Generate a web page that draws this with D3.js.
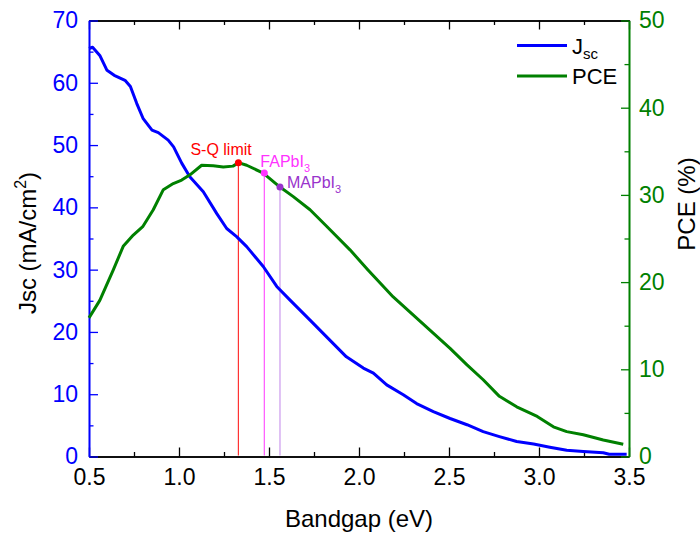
<!DOCTYPE html>
<html>
<head>
<meta charset="utf-8">
<script src="https://cdn.jsdelivr.net/npm/d3@7"></script>
<style>
  body { margin: 0; background: #fff; }
  text { font-family: "Liberation Sans", Arial, sans-serif; }
</style>
</head>
<body>
<div id="chart"></div>
<script>
// Jsc (mA/cm2) vs bandgap (eV)
const jscGap = [0.50, 0.52, 0.56, 0.60, 0.64, 0.70, 0.73, 0.765, 0.80, 0.85, 0.885, 0.94, 0.97, 1.015, 1.06, 1.135, 1.21, 1.265, 1.32, 1.376, 1.468, 1.543, 1.617, 1.728, 1.82, 1.93, 2.024, 2.08, 2.154, 2.246, 2.32, 2.413, 2.506, 2.60, 2.69, 2.78, 2.876, 2.97, 3.06, 3.154, 3.246, 3.357, 3.39, 3.487];
const jscVal = [65.5, 65.7, 64.4, 62.0, 61.2, 60.4, 59.4, 56.7, 54.3, 52.4, 52.0, 50.8, 49.7, 47.1, 44.9, 42.5, 39.0, 36.6, 35.3, 33.7, 30.5, 27.3, 25.1, 21.9, 19.2, 16.0, 14.2, 13.4, 11.5, 9.9, 8.5, 7.2, 6.1, 5.1, 4.0, 3.2, 2.4, 2.0, 1.5, 1.0, 0.8, 0.6, 0.35, 0.35];

// PCE (%) vs bandgap (eV)
const pceGap = [0.50, 0.56, 0.635, 0.69, 0.746, 0.80, 0.857, 0.913, 0.968, 1.015, 1.061, 1.126, 1.19, 1.246, 1.30, 1.33, 1.376, 1.468, 1.561, 1.635, 1.728, 1.82, 1.95, 2.05, 2.19, 2.394, 2.506, 2.60, 2.69, 2.78, 2.876, 2.99, 3.08, 3.154, 3.246, 3.357, 3.468];
const pceVal = [15.9, 17.9, 21.4, 24.1, 25.4, 26.4, 28.3, 30.6, 31.3, 31.7, 32.3, 33.4, 33.35, 33.2, 33.3, 33.7, 33.4, 32.5, 30.9, 29.8, 28.3, 26.4, 23.7, 21.4, 18.3, 14.5, 12.4, 10.5, 8.8, 6.9, 5.7, 4.6, 3.4, 2.85, 2.5, 1.9, 1.4];

// marked absorbers
const markName = ["S-Q limit", "FAPbI", "MAPbI"];
const markSub = ["", "3", "3"];
const markGap = [1.33, 1.474, 1.561];
const markPce = [33.7, 32.5, 30.9];

const xTicks = [0.5, 1.0, 1.5, 2.0, 2.5, 3.0, 3.5];
const jscTicks = [0, 10, 20, 30, 40, 50, 60, 70];
const pceTicks = [0, 10, 20, 30, 40, 50];

const W = 700, H = 535;
const margin = { top: 20.5, right: 71, bottom: 78.5, left: 89 };
const width = W - margin.left - margin.right, height = H - margin.top - margin.bottom;

const BLUE = "#0000ff", GREEN = "#008000";
const markColor = ["#ff0000", "#ff33ff", "#9933cc"];
const markLine = ["#ff3333", "#ff55ff", "#cc99ee"];

const svg = d3.select("#chart").append("svg")
    .attr("width", W)
    .attr("height", H)
    .append("g")
    .attr("transform", `translate(${margin.left},${margin.top})`);

const x = d3.scaleLinear().domain([0.5, 3.5]).range([0, width]);
const yL = d3.scaleLinear().domain([0, 70]).range([height, 0]);
const yR = d3.scaleLinear().domain([0, 50]).range([height, 0]);

const minorX = d3.range(0.75, 3.5, 0.5);
const minorL = d3.range(5, 70, 10);
const minorR = d3.range(5, 50, 10);

const styleAxis = (g, color) => {
    g.attr("color", color);
    g.select(".domain").attr("stroke-width", 1.6);
    g.selectAll(".tick line").attr("stroke-width", 1.3);
    g.selectAll("text").style("font-size", "23px").attr("fill", color);
};

// bottom
svg.append("g").attr("transform", `translate(0,${height})`)
    .call(d3.axisBottom(x).tickValues(xTicks).tickFormat(d3.format(".1f")).tickSize(-9).tickSizeOuter(0).tickPadding(12))
    .call(g => styleAxis(g, "#000"));
svg.append("g").attr("transform", `translate(0,${height})`)
    .call(d3.axisBottom(x).tickValues(minorX).tickFormat("").tickSize(-4.5).tickSizeOuter(0))
    .call(g => styleAxis(g, "#000"));
// top
svg.append("g")
    .call(d3.axisTop(x).tickValues(xTicks).tickFormat("").tickSize(-9).tickSizeOuter(0))
    .call(g => styleAxis(g, "#000"));
svg.append("g")
    .call(d3.axisTop(x).tickValues(minorX).tickFormat("").tickSize(-4.5).tickSizeOuter(0))
    .call(g => styleAxis(g, "#000"));
// left
svg.append("g")
    .call(d3.axisLeft(yL).tickValues(jscTicks).tickSize(-9).tickSizeOuter(0).tickPadding(11))
    .call(g => styleAxis(g, BLUE));
svg.append("g")
    .call(d3.axisLeft(yL).tickValues(minorL).tickFormat("").tickSize(-4.5).tickSizeOuter(0))
    .call(g => styleAxis(g, BLUE));
// right
svg.append("g").attr("transform", `translate(${width},0)`)
    .call(d3.axisRight(yR).tickValues(pceTicks).tickSize(-8).tickSizeOuter(0).tickPadding(10))
    .call(g => styleAxis(g, GREEN));
svg.append("g").attr("transform", `translate(${width},0)`)
    .call(d3.axisRight(yR).tickValues(minorR).tickFormat("").tickSize(-4.5).tickSizeOuter(0))
    .call(g => styleAxis(g, GREEN));

// marker drop lines
markGap.forEach((g, i) => {
    svg.append("line")
        .attr("x1", x(g)).attr("x2", x(g))
        .attr("y1", yR(markPce[i])).attr("y2", height - 1)
        .attr("stroke", markLine[i])
        .attr("stroke-width", 1.2);
});

// curves
const jscData = jscGap.map((g, i) => [g, jscVal[i]]);
const pceData = pceGap.map((g, i) => [g, pceVal[i]]);

svg.append("path")
    .datum(jscData)
    .attr("fill", "none")
    .attr("stroke", BLUE)
    .attr("stroke-width", 3)
    .attr("stroke-linejoin", "round")
    .attr("d", d3.line().x(d => x(d[0])).y(d => yL(d[1])));

svg.append("path")
    .datum(pceData)
    .attr("fill", "none")
    .attr("stroke", GREEN)
    .attr("stroke-width", 3)
    .attr("stroke-linejoin", "round")
    .attr("d", d3.line().x(d => x(d[0])).y(d => yR(d[1])));

// markers and labels
const labelPos = [[-48, -8], [-4, -6], [7, 1]];
markGap.forEach((g, i) => {
    svg.append("circle")
        .attr("cx", x(g)).attr("cy", yR(markPce[i]))
        .attr("r", 3.5)
        .attr("fill", markColor[i]);
    const t = svg.append("text")
        .attr("x", x(g) + labelPos[i][0])
        .attr("y", yR(markPce[i]) + labelPos[i][1])
        .attr("fill", markColor[i])
        .style("font-size", "16px")
        .text(markName[i]);
    if (markSub[i]) {
        t.append("tspan").attr("dy", 5).style("font-size", "11px").text(markSub[i]);
    }
});

// axis titles
svg.append("text")
    .attr("x", width / 2)
    .attr("y", height + 70.5)
    .style("text-anchor", "middle")
    .style("font-size", "24px")
    .text("Bandgap (eV)");

const lt = svg.append("text")
    .attr("transform", "rotate(-90)")
    .attr("x", -(243 - margin.top))
    .attr("y", 36 - margin.left)
    .style("text-anchor", "middle")
    .style("font-size", "24px");
lt.append("tspan").text("Jsc (mA/cm");
lt.append("tspan").attr("dy", -10).style("font-size", "16px").text("2");
lt.append("tspan").attr("dy", 10).text(")");

svg.append("text")
    .attr("transform", "rotate(-90)")
    .attr("x", -(204 - margin.top))
    .attr("y", 695 - margin.left)
    .style("text-anchor", "middle")
    .style("font-size", "24px")
    .text("PCE (%)");

// legend
const legend = svg.append("g").attr("transform", `translate(${517 - margin.left},${45.5 - margin.top})`);
legend.append("line").attr("x1", 0).attr("x2", 50).attr("y1", 0).attr("y2", 0)
    .attr("stroke", BLUE).attr("stroke-width", 3);
const lj = legend.append("text").attr("x", 55).attr("y", 8).style("font-size", "22px");
lj.append("tspan").text("J");
lj.append("tspan").attr("dy", 5).style("font-size", "15px").text("sc");
legend.append("line").attr("x1", 0).attr("x2", 50).attr("y1", 30.5).attr("y2", 30.5)
    .attr("stroke", GREEN).attr("stroke-width", 3);
legend.append("text").attr("x", 55).attr("y", 38.5).style("font-size", "22px").text("PCE");
</script>
</body>
</html>
